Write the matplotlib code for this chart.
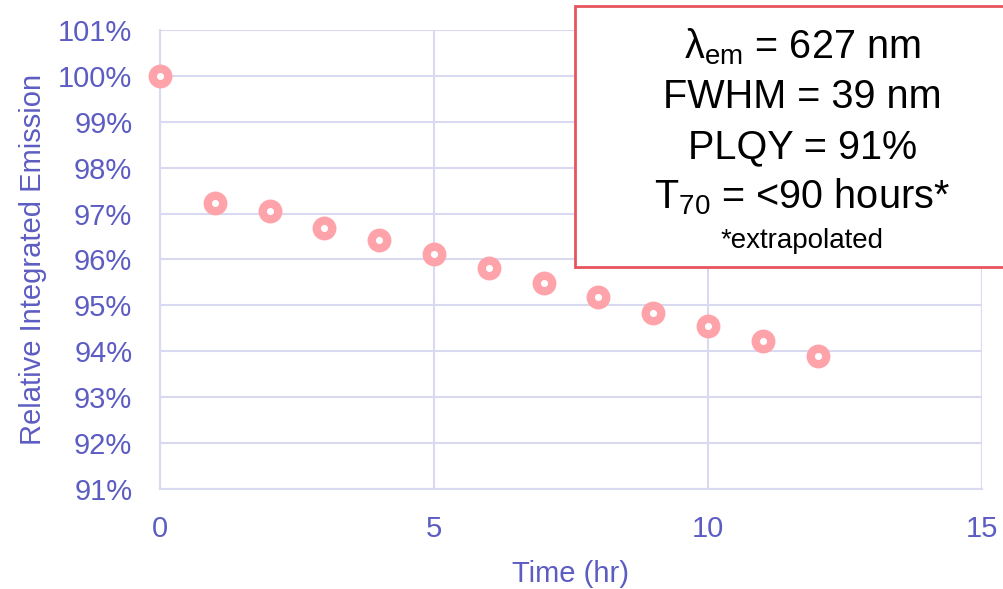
import matplotlib
matplotlib.use("Agg")
import matplotlib.pyplot as plt
from matplotlib.patches import Rectangle
from matplotlib.ticker import FuncFormatter

# data
hours = [0, 1, 2, 3, 4, 5, 6, 7, 8, 9, 10, 11, 12]
emission = [100.0, 97.23, 97.05, 96.69, 96.43, 96.11, 95.81, 95.49, 95.18, 94.83, 94.55, 94.22, 93.90]
info_lines = [r"λ$_{\mathrm{em}}$ = 627 nm", "FWHM = 39 nm", "PLQY = 91%", r"T$_{\mathrm{70}}$ = <90 hours*"]
footnote = "*extrapolated"

plt.rcParams['font.family'] = ['Liberation Sans', 'DejaVu Sans']
plt.rcParams['mathtext.fontset'] = 'custom'
plt.rcParams['mathtext.rm'] = 'Liberation Sans'
plt.rcParams['mathtext.it'] = 'Liberation Sans:italic'

txt = '#5C5CC2'
grid = '#D9D9F2'
pink = '#FFA3AA'

fig = plt.figure(figsize=(10.04, 5.89), dpi=100)
ax = fig.add_axes([0.1594, 0.1698, 0.8186, 0.7793])

ax.plot(hours, emission, linestyle='none', marker='o', ms=11.2, mew=6.0,
        mfc='white', mec=pink, zorder=3, clip_on=False)

ax.set_xlim(0, 15)
ax.set_ylim(91, 101)
ax.set_xticks([0, 5, 10, 15])
ax.set_yticks(range(91, 102))
ax.yaxis.set_major_formatter(FuncFormatter(lambda v, p: f"{v:.0f}%"))
ax.grid(True, color=grid, lw=1.5)
ax.set_axisbelow(True)
for s in ['top', 'right']:
    ax.spines[s].set_visible(False)
for s in ['left', 'bottom']:
    ax.spines[s].set_color(grid)
    ax.spines[s].set_linewidth(1.5)
ax.tick_params(length=0, labelsize=21, colors=txt)
ax.tick_params(axis='y', pad=20)
ax.tick_params(axis='x', pad=19)

ax.set_xlabel("Time (hr)", fontsize=21, color=txt, labelpad=12)
ax.set_ylabel("Relative Integrated Emission", fontsize=21, color=txt, labelpad=8)

# info box in the top right
box = Rectangle((0.5727, 0.5467), 0.5, 0.4431, transform=fig.transFigure,
                facecolor='white', edgecolor='#E8545C', lw=2, zorder=5)
fig.patches.append(box)
baselines = [0.9015, 0.8166, 0.7317, 0.6469]
for line, y in zip(info_lines, baselines):
    fig.text(0.799, y, line, ha='center', va='baseline', fontsize=28.5, color='black', zorder=6)
fig.text(0.799, 0.5789, footnote, ha='center', va='baseline', fontsize=20, color='black', zorder=6)

fig.savefig("out.png", dpi=100)
